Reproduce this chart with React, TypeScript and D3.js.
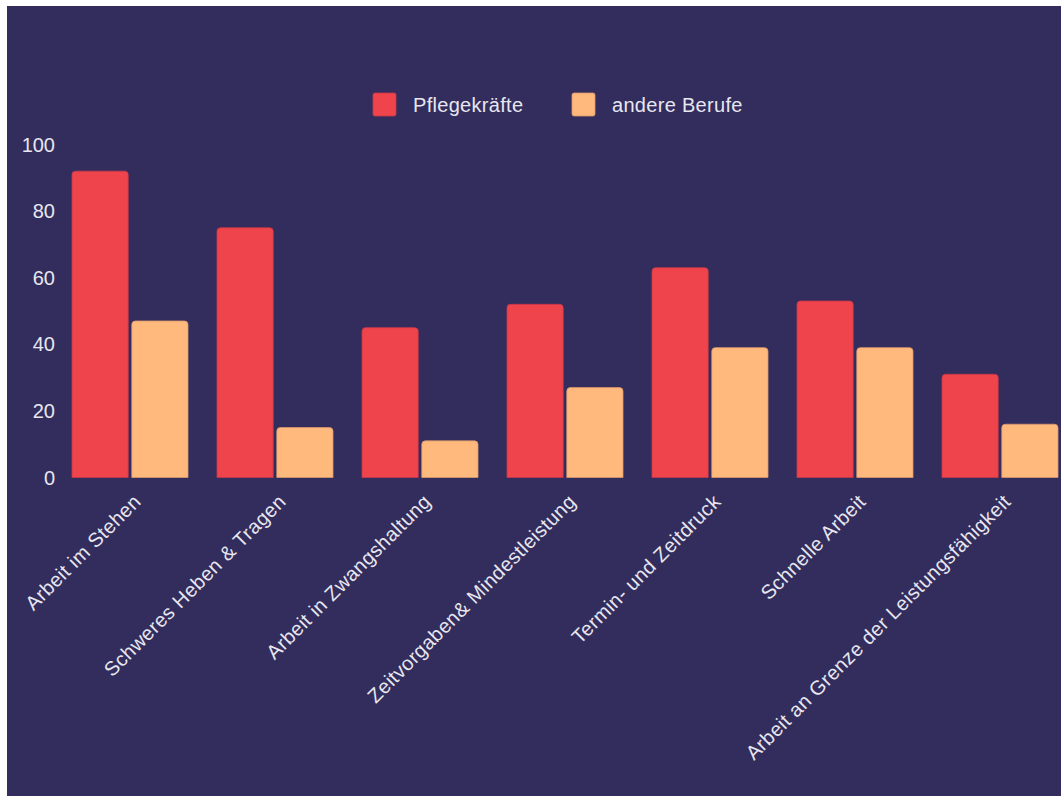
import React, { useRef, useEffect } from 'react'
import * as d3 from 'd3'

const categories = [
  'Arbeit im Stehen',
  'Schweres Heben & Tragen',
  'Arbeit in Zwangshaltung',
  'Zeitvorgaben& Mindestleistung',
  'Termin- und Zeitdruck',
  'Schnelle Arbeit',
  'Arbeit an Grenze der Leistungsfähigkeit'
]
const seriesNames = ['Pflegekräfte', 'andere Berufe']
const pflegeValues = [92, 75, 45, 52, 63, 53, 31]
const andereValues = [47, 15, 11, 27, 39, 39, 16]
const yTicks = [0, 20, 40, 60, 80, 100]

const colors = ['#ef444c', '#ffb97d']
const strokes = ['#c9384a', '#d9976c']
const bg = '#322d5c'
const textColor = '#e8e6f0'
const font = '"Liberation Sans", Arial, sans-serif'

const W = 1061
const H = 796

// bar with rounded top corners only
const topRounded = (x: number, y: number, w: number, h: number, r: number) => {
  const rr = Math.min(r, h / 2, w / 2)
  return `M${x},${y + h}V${y + rr}Q${x},${y} ${x + rr},${y}H${x + w - rr}Q${x + w},${y} ${x + w},${y + rr}V${y + h}Z`
}

const App: React.FC = () => {
  const svgRef = useRef<SVGSVGElement>(null)

  useEffect(() => {
    if (!svgRef.current) return
    const svg = d3.select(svgRef.current)
    svg.selectAll('*').remove()

    // hintergrund
    svg.append('rect')
      .attr('x', 7)
      .attr('y', 6)
      .attr('width', W - 7)
      .attr('height', H - 6)
      .attr('fill', bg)

    const x0 = d3.scaleBand<string>()
      .domain(categories)
      .range([57.5, 1072.5])
      .paddingInner(0.2)
      .paddingOuter(0.1)

    const x1 = d3.scaleBand<string>()
      .domain(seriesNames)
      .range([0, x0.bandwidth()])
      .paddingInner(0.06)

    const y = d3.scaleLinear().domain([0, 100]).range([477.5, 144.5])

    // y-achse
    svg.append('g')
      .selectAll('text')
      .data(yTicks)
      .join('text')
      .attr('x', 55)
      .attr('y', d => y(d))
      .attr('dy', '0.35em')
      .attr('text-anchor', 'end')
      .attr('fill', textColor)
      .attr('font-family', font)
      .attr('font-size', 20)
      .text(d => d)

    // balken
    const rows = categories.map((c, i) => ({ c, vals: [pflegeValues[i], andereValues[i]] }))
    const groups = svg.append('g')
      .selectAll('g')
      .data(rows)
      .join('g')
      .attr('transform', d => `translate(${x0(d.c)},0)`)

    groups.selectAll('path')
      .data(d => d.vals.map((v, j) => ({ v, j })))
      .join('path')
      .attr('d', d => topRounded(x1(seriesNames[d.j])!, y(d.v), x1.bandwidth(), y(0) - y(d.v), 3.5))
      .attr('fill', d => colors[d.j])
      .attr('stroke', d => strokes[d.j])
      .attr('stroke-width', 0.8)

    // kategorien
    svg.append('g')
      .selectAll('text')
      .data(categories)
      .join('text')
      .attr('transform', d => `translate(${x0(d)! + x0.bandwidth() / 2 + 12},${503}) rotate(-45)`)
      .attr('text-anchor', 'end')
      .attr('fill', textColor)
      .attr('font-family', font)
      .attr('font-size', 20)
      .attr('letter-spacing', 0.35)
      .text(d => d)

    // legende
    const legendX = [373, 572]
    const legend = svg.append('g')
      .selectAll('g')
      .data(seriesNames)
      .join('g')
      .attr('transform', (d, i) => `translate(${legendX[i]},93)`)

    legend.append('rect')
      .attr('width', 23)
      .attr('height', 23)
      .attr('rx', 2)
      .attr('fill', (d, i) => colors[i])
      .attr('stroke', (d, i) => strokes[i])
      .attr('stroke-width', 0.8)

    legend.append('text')
      .attr('x', 40)
      .attr('y', 11.5)
      .attr('dy', '0.35em')
      .attr('fill', textColor)
      .attr('font-family', font)
      .attr('font-size', 20)
      .attr('letter-spacing', 0.3)
      .text(d => d)
  }, [])

  return (
    <svg
      ref={svgRef}
      width={W}
      height={H}
      style={{ position: 'absolute', left: 0, top: 0, display: 'block' }}
    />
  )
}

export default App
